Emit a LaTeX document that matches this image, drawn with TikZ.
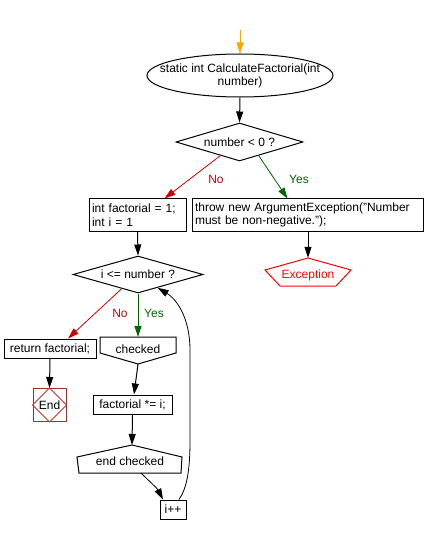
\documentclass[tikz,border=0pt]{standalone}
\usepackage{fontspec}
\setmainfont{Liberation Sans}
\usetikzlibrary{shapes.geometric,arrows.meta,calc}
\definecolor{cOr}{RGB}{255,165,0}
\definecolor{cRed}{RGB}{204,0,0}
\definecolor{cGreen}{RGB}{0,102,0}
\definecolor{cExc}{RGB}{255,0,0}
\definecolor{cEnd}{RGB}{153,51,51}
\definecolor{cEndD}{RGB}{204,51,51}
\tikzset{
  base/.style={font=\fontsize{12}{13.5}\selectfont, inner sep=0pt},
  box/.style={base, draw, line width=1pt, inner xsep=3pt},
  shp/.style={line width=1pt},
  arr/.style={line width=1pt, -{Triangle[width=7pt,length=11pt]}},
  lbl/.style={base},
}
\begin{document}
\begin{tikzpicture}[x=1pt,y=-1pt]
\fill[white] (0,0) rectangle (425,534);
\useasboundingbox (0,0) rectangle (425,534);

% start
\node[ellipse, draw, line width=1pt, minimum width=186, minimum height=43, inner sep=0] (st) at (240,75.5) {};
\node[base, align=center] (stt) at (240,76) {static int CalculateFactorial(int\\number)};
\coordinate (top) at (240,30);

% decision 1
\node[diamond, draw, line width=1pt, minimum width=127, minimum height=38, inner sep=0] (d1) at (239.5,142) {};
\node[base] (d1t) at (d1) {number < 0 ?};

% boxes
\node[box, minimum width=97, minimum height=32, text width=91, align=left] (b1) at (137.5,215) {int factorial = 1;\\int i = 1};
\node[box, minimum width=231, minimum height=32, text width=225, align=left] (b2) at (307.5,215) {throw new ArgumentException("Number\\must be non-negative.");};

% exception
\node[minimum width=86, minimum height=28, inner sep=0] (exc) at (308,272) {};
\draw[shp, cExc] (308,258) -- (351,270) -- (336,286) -- (280,286) -- (265,270) -- cycle;
\node[base, text=cExc] (exct) at (308,275) {Exception};

% decision 2
\node[diamond, draw, line width=1pt, minimum width=130, minimum height=37, inner sep=0] (d2) at (138,274.5) {};
\node[base] (d2t) at (d2) {i <= number ?};

% return
\node[box, minimum width=92, minimum height=19] (ret) at (50,348.5) {return factorial;};
% end
\node[draw=cEnd, line width=1pt, minimum size=33, inner sep=0] (end) at (49.5,405) {};
\draw[cEndD, line width=0.8pt] (end.north) -- (end.east) -- (end.south) -- (end.west) -- cycle;
\node[base] (endt) at (49.5,405) {End};

% checked
\coordinate (chkt) at (138,337);
\coordinate (chkb) at (138,364);
\draw[shp] (100,337) -- (176,337) -- (176,353) -- (chkb) -- (100,353) -- cycle;
\node[base] (chk) at (138,349.5) {checked};

% factorial *= i
\node[box, minimum width=79, minimum height=19] (fact) at (132.5,404.5) {factorial *= i;};

% end checked
\coordinate (ect) at (132,445);
\coordinate (ecb) at (141,473);
\draw[shp] (ect) -- (182,457) -- (181,473) -- (79,473) -- (77,457) -- cycle;
\node[base] (ec) at (130,461.5) {end checked};

% i++
\node[box, minimum width=26, minimum height=19] (inc) at (173,509.5) {i++};

% connectors
\draw[arr, cOr] (top) -- (st.north);
\draw[arr] (st.south) -- (d1.north);
\draw[arr, cRed, line width=0.8pt] ($(d1.south)!0.3!(d1.west)$) -- ([xshift=27pt]b1.north);
\draw[arr, cGreen, line width=0.8pt] ($(d1.south)!0.3!(d1.east)$) -- ([xshift=-20pt]b2.north);
\node[lbl, text=cRed] (no1) at (216,179.5) {No};
\node[lbl, text=cGreen] (yes1) at (299,179.5) {Yes};
\draw[arr] ([xshift=0.5pt]b2.south) -- (exc.north);
\draw[arr] (b1.south) -- (d2.north);
\draw[arr, cRed, line width=0.8pt] ($(d2.south)!0.25!(d2.west)$) -- ([xshift=18pt]ret.north);
\draw[arr, cGreen] (d2.south) -- (chkt);
\node[lbl, text=cRed] (no2) at (120,313.5) {No};
\node[lbl, text=cGreen] (yes2) at (154,313.5) {Yes};
\draw[arr] (ret.south) -- (end.north);
\draw[arr] (chkb) -- ([xshift=1.5pt]fact.north);
\draw[arr] (fact.south) -- (ect);
\draw[arr, line width=0.8pt] (ecb) .. controls (150,482) and (157,488) .. ([xshift=-10pt]inc.north);
\draw[arr, line width=0.8pt] ([xshift=6pt]inc.north) .. controls (187,488) and (190,470) .. (190,440) -- (190,350) .. controls (190,320) and (178,300) .. ($(d2.south)!0.3!(d2.east)$);
\end{tikzpicture}
\end{document}
